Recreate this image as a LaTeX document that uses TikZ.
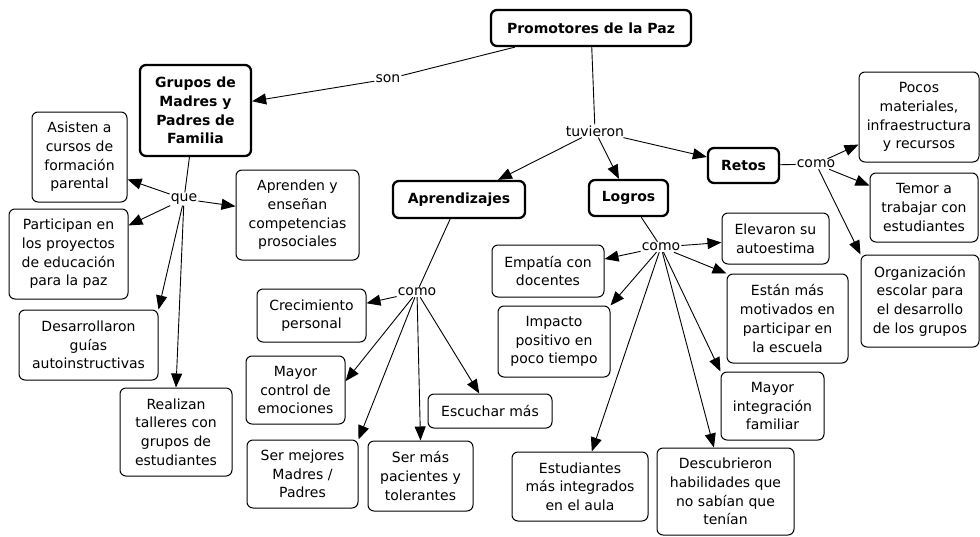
\documentclass[tikz,border=0pt]{standalone}
\usepackage{fontspec}
\setmainfont{DejaVu Sans}
\usetikzlibrary{arrows.meta}

\tikzset{
	concept/.style={draw, rounded corners=6pt, align=center, line width=1pt, inner sep=2pt, font=\fontsize{14}{18.7}\selectfont},
	mainconcept/.style={concept, line width=2.3pt, font=\fontsize{14}{18.7}\selectfont\bfseries},
	linkword/.style={inner sep=1pt, font=\fontsize{14}{16}\selectfont},
	conn/.style={line width=0.9pt},
	arr/.style={conn, -{Triangle[length=14pt,width=11pt]}}
}

\begin{document}
\begin{tikzpicture}[x=1pt,y=-1pt]
	
	\useasboundingbox (0,0) rectangle (980,536);
	
	\node[mainconcept, minimum width=200pt, minimum height=36pt] (promo) at (591,28) {Promotores de la Paz};
	\node[mainconcept, minimum width=111pt, minimum height=91pt] (grupos) at (195.5,110.5) {Grupos de\\Madres y\\Padres de\\Familia};
	\node[mainconcept, minimum width=132pt, minimum height=37pt] (aprend) at (459,199.5) {Aprendizajes};
	\node[mainconcept, minimum width=79pt, minimum height=36pt] (logros) at (628.5,198) {Logros};
	\node[mainconcept, minimum width=71pt, minimum height=35pt] (retos) at (743.5,165.5) {Retos};
	
	\node[linkword] (son) at (388,79) {son};
	\node[linkword] (tuvieron) at (595,131) {tuvieron};
	\node[linkword] (que) at (184,199) {que};
	\node[linkword] (comoA) at (417,292) {como};
	\node[linkword] (comoL) at (661,247) {como};
	\node[linkword] (comoR) at (816,164) {como};
	
	\node[concept, minimum width=95pt, minimum height=90pt] (asisten) at (79.5,157) {Asisten a\\cursos de\\formación\\parental};
	\node[concept, minimum width=123pt, minimum height=90pt] (aprenden) at (297.5,215) {Aprenden y\\enseñan\\competencias\\prosociales};
	\node[concept, minimum width=119pt, minimum height=90pt] (partic) at (68.5,254) {Participan en\\los proyectos\\de educación\\para la paz};
	\node[concept, minimum width=139pt, minimum height=70pt] (desarr) at (88.5,345) {Desarrollaron\\guías\\autoinstructivas};
	\node[concept, minimum width=112pt, minimum height=88pt] (realiz) at (176,432) {Realizan\\talleres con\\grupos de\\estudiantes};
	
	\node[concept, minimum width=109pt, minimum height=53pt] (crec) at (311.5,315.5) {Crecimiento\\personal};
	\node[concept, minimum width=99pt, minimum height=68pt] (control) at (295.5,390) {Mayor\\control de\\emociones};
	\node[concept, minimum width=111pt, minimum height=68pt] (sermej) at (302.5,474) {Ser mejores\\Madres /\\Padres};
	\node[concept, minimum width=105pt, minimum height=70pt] (pacien) at (420.5,476) {Ser más\\pacientes y\\tolerantes};
	\node[concept, minimum width=124pt, minimum height=34pt] (escuchar) at (490,411) {Escuchar más};
	
	\node[concept, minimum width=112pt, minimum height=52pt] (empatia) at (548,271) {Empatía con\\docentes};
	\node[concept, minimum width=112pt, minimum height=71pt] (impacto) at (554,341.5) {Impacto\\positivo en\\poco tiempo};
	\node[concept, minimum width=107pt, minimum height=51pt] (elevaron) at (775.5,238.5) {Elevaron su\\autoestima};
	\node[concept, minimum width=121pt, minimum height=89pt] (motiv) at (787.5,318.5) {Están más\\motivados en\\participar en\\la escuela};
	\node[concept, minimum width=103pt, minimum height=68pt] (integ) at (772.5,406) {Mayor\\integración\\familiar};
	\node[concept, minimum width=136pt, minimum height=69pt] (estud) at (580,486.5) {Estudiantes\\más integrados\\en el aula};
	\node[concept, minimum width=137pt, minimum height=87pt] (descub) at (725.5,491.5) {Descubrieron\\habilidades que\\no sabían que\\tenían};
	
	\node[concept, minimum width=120pt, minimum height=90pt] (pocos) at (919,117) {Pocos\\materiales,\\infraestructura\\y recursos};
	\node[concept, minimum width=108pt, minimum height=69pt] (temor) at (924,207.5) {Temor a\\trabajar con\\estudiantes};
	\node[concept, minimum width=118pt, minimum height=92pt] (organiz) at (920,301) {Organización\\escolar para\\el desarrollo\\de los grupos};
	
	\draw[conn] (promo) -- (son);
	\draw[arr] (son) -- (grupos);
	\draw[conn] (promo) -- (tuvieron);
	\draw[arr] (tuvieron) -- (aprend);
	\draw[arr] (tuvieron) -- (logros);
	\draw[arr] (tuvieron) -- (retos);
	
	\draw[conn] (grupos) -- (que);
	\draw[arr] (que) -- (asisten.-25);
	\draw[arr] (que) -- (partic);
	\draw[arr] (que) -- (aprenden);
	\draw[arr] (que) -- (desarr.north east);
	\draw[arr] (que) -- (realiz.north);
	
	\draw[conn] (aprend) -- (comoA);
	\draw[arr] (comoA) -- (crec);
	\draw[arr] (comoA) -- (control.10);
	\draw[arr] (comoA) -- (sermej.north east);
	\draw[arr] (comoA) -- (pacien.north);
	\draw[arr] (comoA) -- (escuchar);
	
	\draw[conn] (logros) -- (comoL);
	\draw[arr] (comoL) -- (elevaron);
	\draw[arr] (comoL) -- (empatia);
	\draw[arr] (comoL) -- (impacto.north east);
	\draw[arr] (comoL) -- (motiv.north west);
	\draw[arr] (comoL) -- (integ.north west);
	\draw[arr] (comoL) -- (estud);
	\draw[arr] (comoL) -- (descub);
	
	\draw[conn] (retos) -- (comoR);
	\draw[arr] (comoR) -- (pocos);
	\draw[arr] (comoR) -- (temor);
	\draw[arr] (comoR) -- (organiz.north west);
	
\end{tikzpicture}
\end{document}
